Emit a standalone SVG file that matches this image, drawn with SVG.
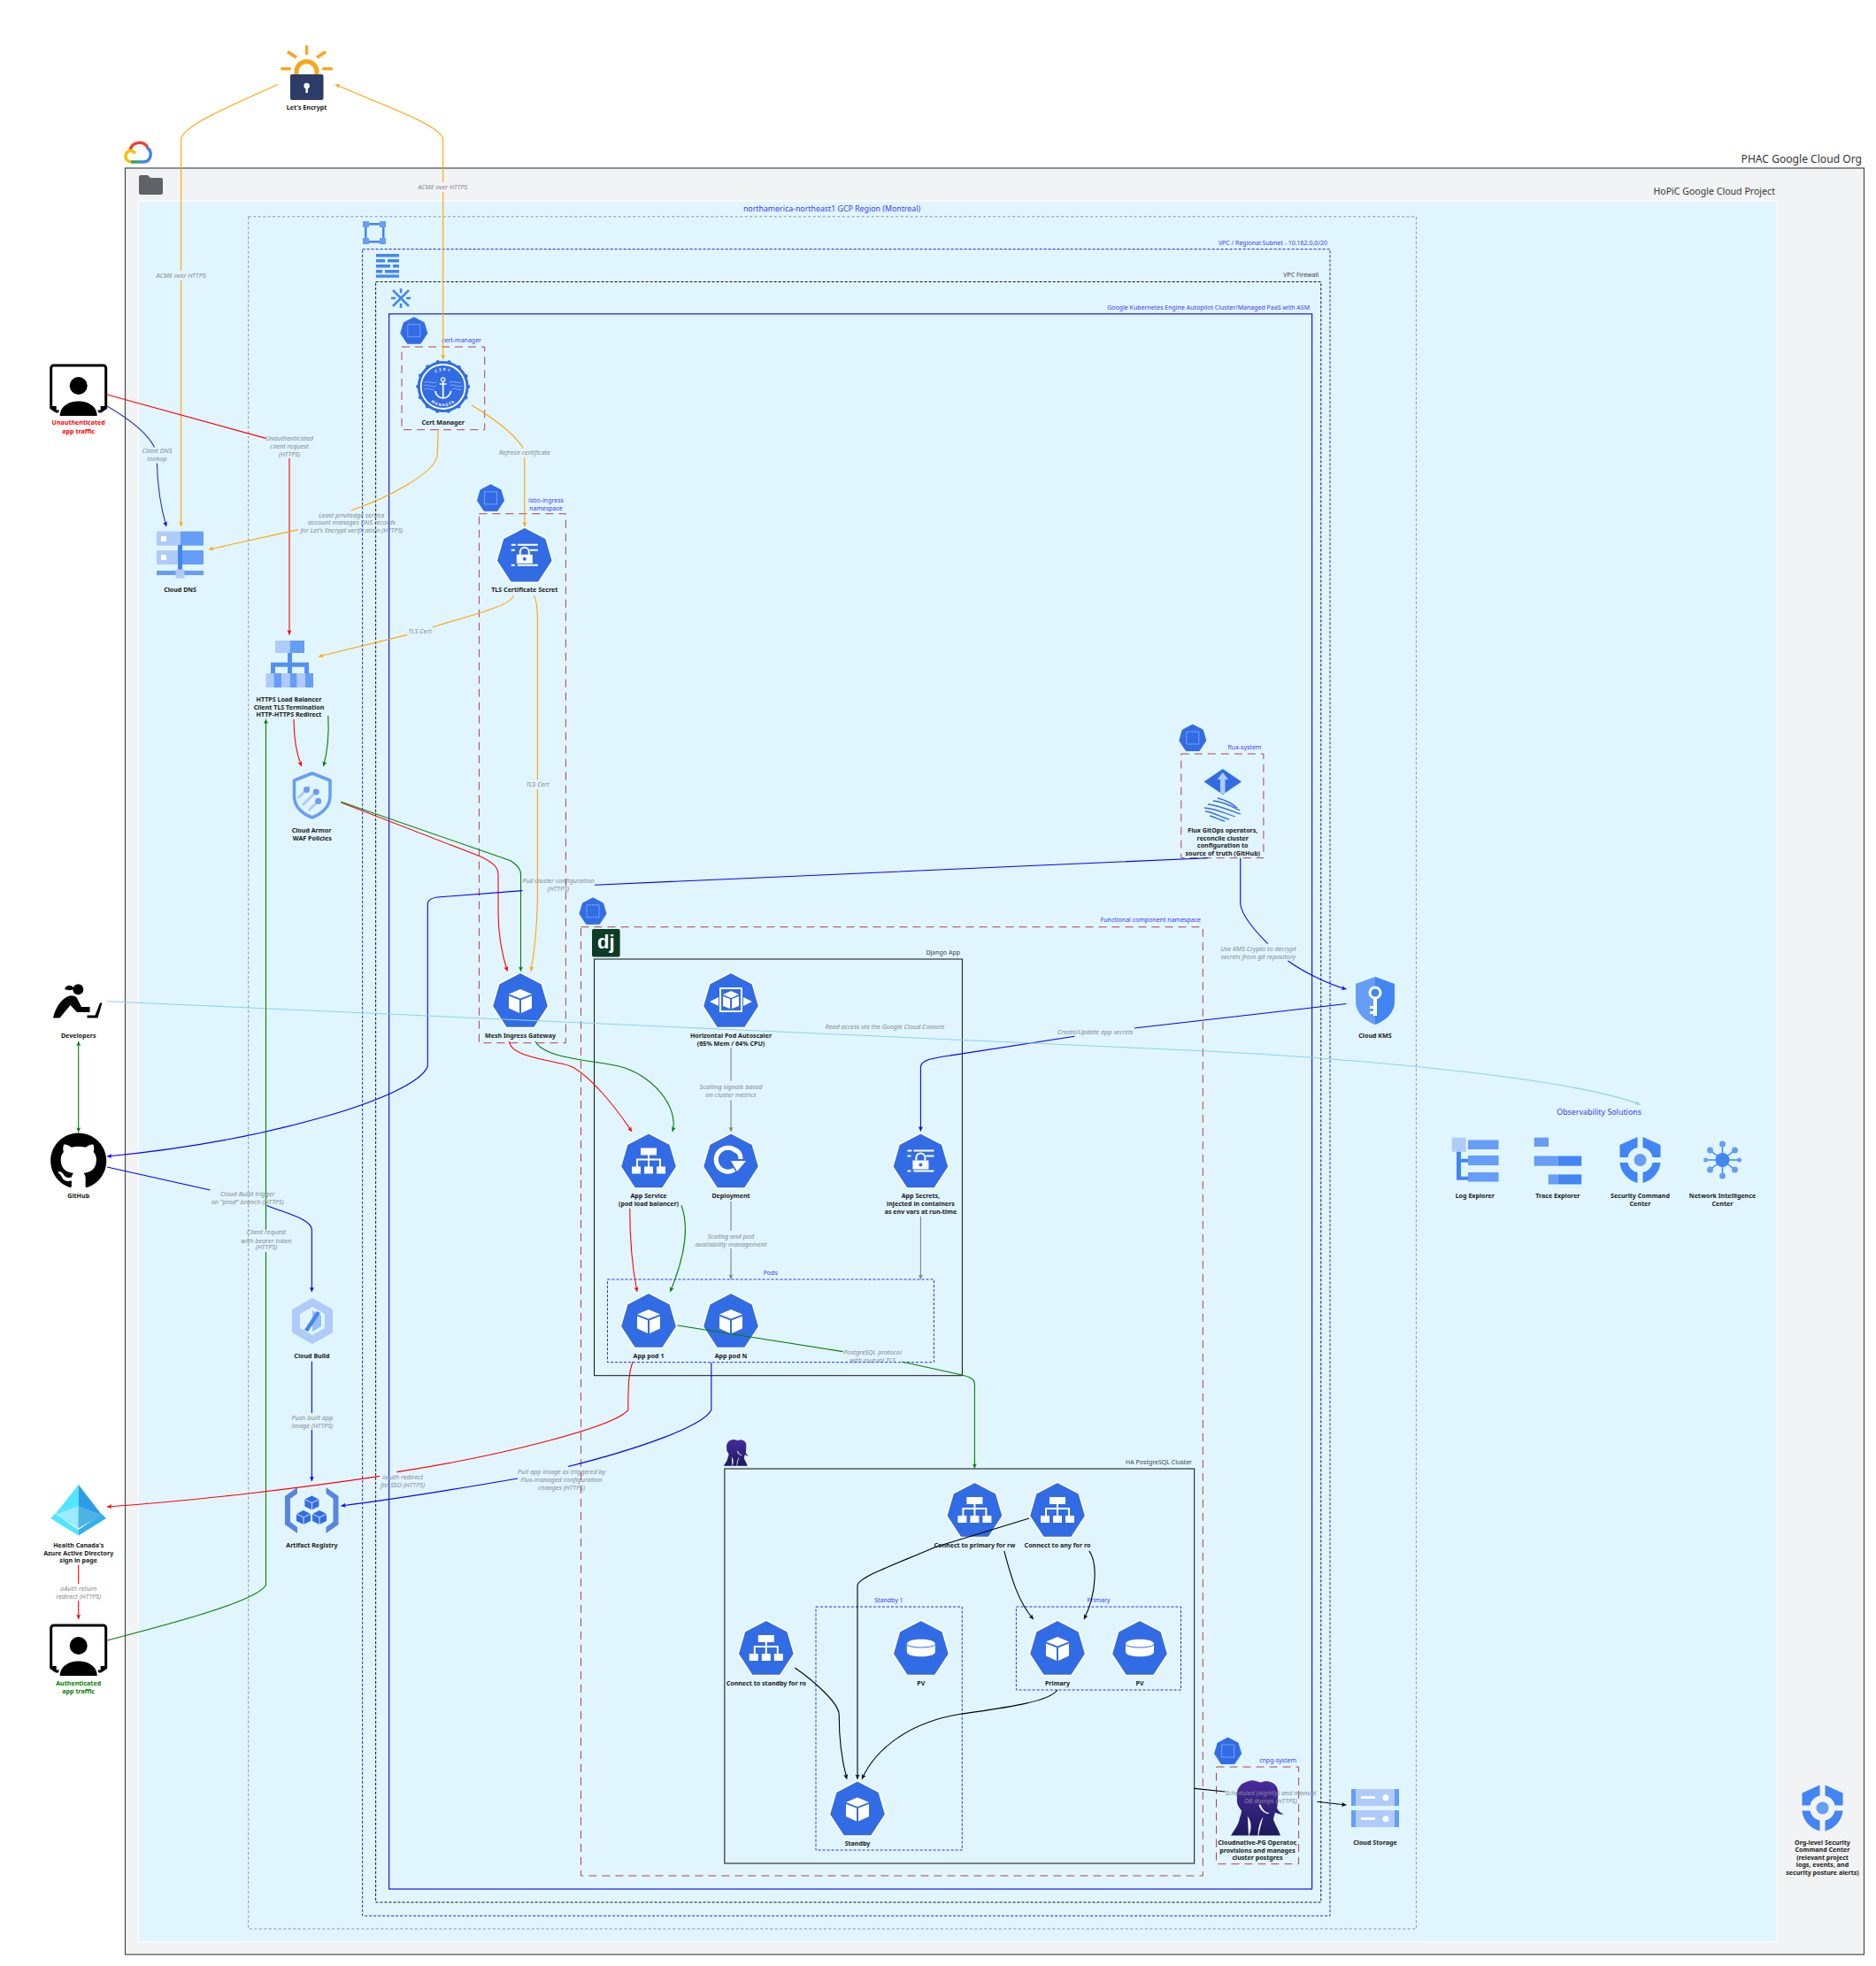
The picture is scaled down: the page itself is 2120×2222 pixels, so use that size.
<svg xmlns="http://www.w3.org/2000/svg" width="2120" height="2222" viewBox="0 0 2120 2222">
<style>
text{font-family:"Noto Sans","Liberation Sans",sans-serif}
.n{font-size:7.1px;font-weight:700;fill:#1a1a1a;text-anchor:middle}
.e{font-size:7.3px;font-style:italic;fill:#868a92;text-anchor:middle}
.t{font-size:7px;fill:#3a3aff;text-anchor:end}
.k{font-size:7px;fill:#444;text-anchor:end}
.ns{fill:none;stroke:#b5404a;stroke-width:1;stroke-dasharray:9 6}
.c{fill:none;stroke-width:1.1}
.or{stroke:#ffa500;marker-end:url(#a-or)}
.re{stroke:#f00;marker-end:url(#a-re)}
.bl{stroke:#00f;marker-end:url(#a-bl)}
.gr{stroke:#008000;marker-end:url(#a-gr)}
.gy{stroke:#808080;marker-end:url(#a-gy)}
.bk{stroke:#000;marker-end:url(#a-bk)}
.lb{stroke:#87d3ea;marker-end:url(#a-lb)}
</style>
<defs>
<marker id="a-or" viewBox="0 0 8 8" refX="7" refY="4" markerWidth="6" markerHeight="6" markerUnits="userSpaceOnUse" orient="auto-start-reverse"><path d="M0 .6 7 4 0 7.4 1.6 4Z" fill="#ffa500"/></marker>
<marker id="a-re" viewBox="0 0 8 8" refX="7" refY="4" markerWidth="6" markerHeight="6" markerUnits="userSpaceOnUse" orient="auto-start-reverse"><path d="M0 .6 7 4 0 7.4 1.6 4Z" fill="#f00"/></marker>
<marker id="a-bl" viewBox="0 0 8 8" refX="7" refY="4" markerWidth="6" markerHeight="6" markerUnits="userSpaceOnUse" orient="auto-start-reverse"><path d="M0 .6 7 4 0 7.4 1.6 4Z" fill="#00f"/></marker>
<marker id="a-gr" viewBox="0 0 8 8" refX="7" refY="4" markerWidth="6" markerHeight="6" markerUnits="userSpaceOnUse" orient="auto-start-reverse"><path d="M0 .6 7 4 0 7.4 1.6 4Z" fill="#008000"/></marker>
<marker id="a-gy" viewBox="0 0 8 8" refX="7" refY="4" markerWidth="6" markerHeight="6" markerUnits="userSpaceOnUse" orient="auto-start-reverse"><path d="M0 .6 7 4 0 7.4 1.6 4Z" fill="#808080"/></marker>
<marker id="a-bk" viewBox="0 0 8 8" refX="7" refY="4" markerWidth="6" markerHeight="6" markerUnits="userSpaceOnUse" orient="auto-start-reverse"><path d="M0 .6 7 4 0 7.4 1.6 4Z" fill="#000"/></marker>
<marker id="a-lb" viewBox="0 0 8 8" refX="7" refY="4" markerWidth="6" markerHeight="6" markerUnits="userSpaceOnUse" orient="auto-start-reverse"><path d="M0 .6 7 4 0 7.4 1.6 4Z" fill="#87d3ea"/></marker>
<linearGradient id="pg" x1="0" y1="0" x2="0" y2="1"><stop offset="0" stop-color="#4a2a9e"/><stop offset="1" stop-color="#1b1a5c"/></linearGradient>
<g id="hep"><path d="M0-30 23-18 30 6 15 29-15 29-30 6-23-18Z" fill="#fff" stroke="#fff" stroke-width="5" stroke-linejoin="round"/><path d="M0-30 23-18 30 6 15 29-15 29-30 6-23-18Z" fill="#326ce5" stroke="#326ce5" stroke-width="1.5" stroke-linejoin="round"/></g>
<g id="cube"><use href="#hep"/><path d="M0-13 13-7.500 0-2.500-13-7.500Z M-13-5.500-1-.8V14L-13 8.500Z M13-5.500 1-.8V14L13 8.500Z" fill="#fff"/></g>
<g id="tree"><use href="#hep"/><path d="M-9-15H9V-7H-9ZM-1-7H1V-3H14V6H12V-1H1V6H-1V-1H-12V6H-14V-3H-1ZM-19 6H-9V14H-19ZM-5 6H5V14H-5ZM9 6H19V14H9Z" fill="#fff"/></g>
<g id="secret"><use href="#hep"/><path d="M-15-13h5v2h-5zM-8-13H15v2H-8zM6-7h9v2H6zM-15-7h4v2h-4zM-15 10h4v2h-4zM-8 10H15v2H-8zM-9-1H9V9H-9Z" fill="#fff"/><path d="M-5-1V-4a5 5 0 0 1 10 0V-1" fill="none" stroke="#fff" stroke-width="2"/><circle cy="4" r="2" fill="#326ce5"/></g>
<g id="pv"><use href="#hep"/><path d="M-16-5C-16-12 16-12 16-5V4C16 11-16 11-16 4Z" fill="#fff"/><path d="M-16-4C-12 0 12 0 16-4" fill="none" stroke="#326ce5" stroke-width="1"/></g>
<g id="nsi"><path d="M0-15 11.500-9 15 3 7.500 14.500H-7.500L-15 3-11.500-9Z" fill="#326ce5" stroke="#326ce5" stroke-linejoin="round"/><rect x="-7" y="-7" width="14" height="14" fill="none" stroke="#dfe8fb" stroke-width=".8" stroke-dasharray="1 1"/></g>
<g id="user"><path d="M-31-24a3 3 0 0 1 3-3H28a3 3 0 0 1 3 3V21L25 25H-25L-31 21Z" fill="none" stroke="#000" stroke-width="3" stroke-linejoin="round"/><path d="M-21 30C-21 8 21 8 21 30Z" fill="#000" stroke="#fff" stroke-width="4" paint-order="stroke"/><path d="M-31 19H-25V25H-28ZM31 19H25V25H28Z" fill="#000"/><circle cy="-4" r="10" fill="#000"/></g>
<g id="scc" fill="#4285f4"><path d="M-23-17-3-26V-14A13 13 0 0 0-14-3H-23ZM23-17 3-26V-14A13 13 0 0 1 14-3H23ZM-23 3H-14A13 13 0 0 0-3 14V26C-14 23-22 14-23 3ZM23 3H14A13 13 0 0 1 3 14V26C14 23 22 14 23 3Z"/><circle r="7" fill="#669df6"/></g>
<g id="eleph"><path d="M22 0C27-1 30 2 34 2 38 0 42 0 46 2 51 4 54 9 53 16 53 22 53 27 52 31 54 35 57 37 60 38 56 38.500 52 37 50 36 49 40 48 42 48 44 50 50 54 56 56 62H0C4 56 8 50 9 46 10 41 12 37 12 34 9 30 6 26 7 20 6 14 7 9 12 4 15 2 18 1 22 0Z" fill="url(#pg)"/><path d="M33 27C35 32 38 36 43 37 39 37 34 34 32 28ZM19 41C23 47 23 55 20 62M36 42C33 47 31 54 31 62" fill="#fff" stroke="#fff" stroke-width=".8" fill-opacity="1"/></g>
<g id="mc"><path d="M0-8 8-4V4L0 8-8 4V-4Z" fill="#326ce5"/><path d="M-8-4 0 0 8-4M0 0V8" fill="none" stroke="#fff" stroke-width=".8"/></g>
<path id="arcT" d="M-18 0A18 18 0 0 1 18 0"/>
<path id="arcB" d="M-22 0A22 22 0 0 0 22 0"/>
</defs>

<g id="org"><rect x="141.500" y="190" width="1965" height="2019" fill="#f1f3f4" stroke="#4a4a4a" stroke-width="1.200"/><text x="2104" y="184" font-size="12.100" fill="#333" text-anchor="end">PHAC Google Cloud Org</text>
<path d="M147 170C149 160 163 158 167 167" fill="none" stroke="#ea4335" stroke-width="3.500"/><path d="M166 167C173 171 171 183 162 183H157" fill="none" stroke="#4285f4" stroke-width="3.500"/><path d="M157 183H148" fill="none" stroke="#34a853" stroke-width="3.500"/><path d="M148 183C140 182 140 172 148 170L153 173" fill="none" stroke="#fbbc04" stroke-width="3.500"/></g>
<g id="project"><rect x="156.500" y="227" width="1852" height="1968" fill="#e1f5fe" stroke="#fff" stroke-width="1.200"/><text x="2006" y="220" font-size="10.600" fill="#333" text-anchor="end">HoPiC Google Cloud Project</text>
<path d="M157 200a2 2 0 0 1 2-2h8l3 3h12a2 2 0 0 1 2 2v15a2 2 0 0 1-2 2H159a2 2 0 0 1-2-2Z" fill="#5f6368"/></g>
<g id="region"><rect x="280.700" y="244.800" width="1319.700" height="1935.200" fill="none" stroke="#888" stroke-width=".9" stroke-dasharray="3 2.500"/><text x="940" y="239" font-size="8.800" fill="#3a3aff" text-anchor="middle">northamerica-northeast1 GCP Region (Montreal)</text>
<g fill="#669df6"><rect x="410" y="250" width="7" height="7"/><rect x="429" y="250" width="7" height="7"/><rect x="410" y="269" width="7" height="7"/><rect x="429" y="269" width="7" height="7"/><path d="M417 252h12v2.500H417ZM417 272h12v2.500H417ZM412 257h2.500v12H412ZM432 257h2.500v12H432Z" fill="#4285f4"/></g></g>
<g id="subnet"><rect x="409.600" y="281.600" width="1093.400" height="1883.700" fill="none" stroke="#2020f0" stroke-width="1" stroke-dasharray="3 2"/><text class="t" x="1500" y="277">VPC / Regional Subnet - 10.162.0.0/20</text>
<path d="M425 287h26v3.500H425ZM425 293h10v3.500H425ZM438 293h13v3.500H438ZM425 299h16v3.500H425ZM444 299h7v3.500H444ZM425 305h7v3.500H425ZM435 305h16v3.500H435ZM425 310.500h26v3.200H425Z" fill="#4285f4"/></g>
<g id="firewall"><rect x="424.600" y="318.500" width="1068.200" height="1831.500" fill="none" stroke="#111" stroke-width="1" stroke-dasharray="3 2"/><text class="k" x="1490" y="313">VPC Firewall</text>
<g stroke="#4285f4" stroke-width="2.500" fill="none"><path d="M444 328 462 346M462 328 444 346M453 326V331M453 343V348M442 337H447M459 337H464"/></g></g>
<g id="gke"><rect x="439.600" y="354.800" width="1043" height="1780.200" fill="none" stroke="#1818e8" stroke-width="1.200"/><text class="t" x="1480" y="350">Google Kubernetes Engine Autopilot Cluster/Managed PaaS with ASM</text></g>

<g id="ns-cert"><rect class="ns" x="454" y="392" width="93.700" height="93.700"/><use href="#nsi" x="467.800" y="373.700"/><text class="t" x="544" y="387">cert-manager</text></g>
<g id="ns-istio"><rect class="ns" x="541.400" y="580.700" width="98" height="598"/><use href="#nsi" x="554.500" y="562.800"/><text class="t" x="617" y="568" style="text-anchor:middle">istio-ingress</text><text class="t" x="617" y="577" style="text-anchor:middle">namespace</text></g>
<g id="ns-flux"><rect class="ns" x="1334.800" y="852" width="93.100" height="117.700"/><use href="#nsi" x="1347.800" y="834"/><text class="t" x="1425.400" y="847">flux-system</text></g>
<g id="ns-func"><rect class="ns" x="656.500" y="1047.700" width="702.800" height="1072.300"/><use href="#nsi" x="670" y="1029.800"/><text class="t" x="1357" y="1042">Functional component namespace</text></g>
<g id="ns-cnpg"><rect class="ns" x="1374.500" y="1997" width="93.100" height="109.700"/><use href="#nsi" x="1387.600" y="1979"/><text class="t" x="1465" y="1992">cnpg-system</text></g>

<g id="django"><rect x="671.500" y="1084" width="415.900" height="470.700" fill="none" stroke="#111" stroke-width="1"/><text class="k" x="1085" y="1079">Django App</text><rect x="669" y="1050" width="31.600" height="31.600" rx="2" fill="#0c3c26"/><text x="684.800" y="1072" font-size="22" font-weight="700" fill="#fff" text-anchor="middle" style="font-family:'Liberation Sans',sans-serif">dj</text></g>
<g id="pods"><rect x="686.500" y="1446" width="368.900" height="93.700" fill="none" stroke="#2a2af0" stroke-width="1" stroke-dasharray="3 2"/><text class="t" x="870.700" y="1441" style="text-anchor:middle">Pods</text></g>
<g id="ha"><rect x="818.800" y="1660" width="530.800" height="446" fill="none" stroke="#333" stroke-width="1.200"/><text class="k" x="1347" y="1655">HA PostgreSQL Cluster</text><use href="#eleph" transform="translate(817.800 1627) scale(.48)"/></g>
<g id="standby1"><rect x="922" y="1816" width="165.300" height="275" fill="none" stroke="#2a2af0" stroke-width="1" stroke-dasharray="3 2"/><text class="t" x="1004.400" y="1811" style="text-anchor:middle">Standby 1</text></g>
<g id="primaryset"><rect x="1148.400" y="1816" width="186.100" height="94" fill="none" stroke="#2a2af0" stroke-width="1" stroke-dasharray="3 2"/><text class="t" x="1241.500" y="1811" style="text-anchor:middle">Primary</text></g>

<g id="letsencrypt"><g fill="#faa61a"><rect x="345" y="51" width="3.200" height="11" rx="1.500"/><rect x="317" y="76" width="12" height="3.500" rx="1.500"/><rect x="364" y="76" width="12" height="3.500" rx="1.500"/><path d="M324 60l2-3 10 6.500-2 3ZM369 60l-2-3-10 6.500 2 3Z"/></g><path d="M335 84V81a11.500 11.500 0 0 1 23 0V84" fill="none" stroke="#faa61a" stroke-width="5"/><rect x="328" y="84" width="37.500" height="29" rx="2" fill="#2c3c69"/><circle cx="346.600" cy="97" r="3.200" fill="#fff"/><rect x="345.400" y="98" width="2.500" height="7" fill="#fff"/><text class="n" x="346.600" y="124">Let's Encrypt</text></g>
<g id="unauth"><use href="#user" x="88.700" y="440"/><text class="n" x="88.700" y="480" style="fill:#f00">Unauthenticated</text><text class="n" x="88.700" y="490" style="fill:#f00">app traffic</text></g>
<g id="clouddns"><rect x="177" y="600.600" width="27" height="16" fill="#aecbfa"/><rect x="204" y="600.600" width="26" height="16" fill="#669df6"/><rect x="177" y="622" width="27" height="16" fill="#aecbfa"/><rect x="204" y="622" width="26" height="16" fill="#669df6"/><rect x="182" y="606" width="6" height="6" fill="#fff"/><rect x="182" y="627" width="6" height="6" fill="#fff"/><rect x="201" y="616" width="5" height="30" fill="#4285f4"/><rect x="177" y="645" width="53" height="5" fill="#669df6"/><rect x="198.500" y="643.500" width="10" height="10" fill="#aecbfa"/><text class="n" x="203.600" y="669">Cloud DNS</text></g>
<g id="certmanager"><circle cx="500.700" cy="437" r="29" fill="#326ce5"/><circle cx="500.700" cy="437" r="28.500" fill="none" stroke="#326ce5" stroke-width="4" stroke-dasharray=".1 12.700" stroke-linecap="round"/><circle cx="500.700" cy="437" r="25" fill="none" stroke="#fff" stroke-width="1.800"/><g transform="translate(500.700 437)"><text font-size="4.200" font-weight="700" fill="#fff" letter-spacing="2" text-anchor="middle"><textPath href="#arcT" startOffset="50%">CERT</textPath></text><text font-size="4.200" font-weight="700" fill="#fff" letter-spacing="1.200" text-anchor="middle"><textPath href="#arcB" startOffset="50%">MANAGER</textPath></text><path d="M0-6V13M-4-3H4M-9 5C-8 10-4 13 0 13 4 13 8 10 9 5" fill="none" stroke="#fff" stroke-width="1.700"/><circle cy="-8" r="2.200" fill="none" stroke="#fff" stroke-width="1.200"/><path d="M-22-1C-17-4-13 2-8-1M8-1C13-4 17 2 22-1M-21 3C-17 0-14 5-10 3M10 3C14 0 17 5 21 3M-21-5C-17-7-13-3-7-5M7-5C13-7 17-3 21-5" fill="none" stroke="#c4d5f7" stroke-width=".6"/></g><text class="n" x="500.700" y="480">Cert Manager</text></g>
<g id="tls"><use href="#secret" x="592.800" y="627.700"/><text class="n" x="592.800" y="669">TLS Certificate Secret</text></g>
<g id="lb"><rect x="311" y="724" width="16.500" height="14" fill="#aecbfa"/><rect x="327.500" y="724" width="16.500" height="14" fill="#669df6"/><path d="M325 738h5v10.700h19V761h-5v-7.300H330V761h-5v-7.300H311V761h-5V748.700h19Z" fill="#4285f4" opacity=".9"/><g fill="#aecbfa"><rect x="300.500" y="761" width="9" height="16"/><rect x="318" y="761" width="9.500" height="16"/><rect x="335.500" y="761" width="9.500" height="16"/></g><g fill="#669df6"><rect x="309.500" y="761" width="8.500" height="16"/><rect x="327.500" y="761" width="8" height="16"/><rect x="345" y="761" width="9" height="16"/></g><text class="n" x="326.500" y="793">HTTPS Load Balancer</text><text class="n" x="326.500" y="802">Client TLS Termination</text><text class="n" x="326.500" y="810">HTTP-HTTPS Redirect</text></g>
<g id="armor"><path d="M352.800 874 373 882V900C373 912 363 920 352.800 924 342 920 332.500 912 332.500 900V882Z" fill="none" stroke="#669df6" stroke-width="3.500" stroke-linejoin="round"/><path d="M337 902 350 889M342 910 357 895M349 916 362 903" stroke="#aecbfa" stroke-width="3"/><circle cx="346.500" cy="892.500" r="3.500" fill="#669df6"/><circle cx="357.300" cy="895" r="3.500" fill="#669df6"/><circle cx="359.700" cy="905.500" r="3.500" fill="#669df6"/><text class="n" x="352" y="940.700">Cloud Armor</text><text class="n" x="352.800" y="950">WAF Policies</text></g>
<g id="mesh"><use href="#cube" x="588" y="1131"/><text class="n" x="588" y="1173">Mesh Ingress Gateway</text></g>
<g id="developers"><circle cx="88.300" cy="1118.300" r="6" fill="#000"/><path d="M83 1116C79 1112 74 1114 73 1118 76 1119 79 1120 83 1118Z" fill="#000"/><path d="M60 1150.500C62 1141 68 1130 76 1126.500 80 1124.500 85 1125 87 1128L92 1138H101.500V1144H87L79.500 1136 67.500 1150.500Z" fill="#000"/><path d="M98.500 1147.500H107.500L113 1133.500H115.500L110.500 1150.500H98.500Z" fill="#000"/><text class="n" x="88.700" y="1173">Developers</text></g>
<g id="github"><path transform="translate(57.200 1280.500) scale(3.940)" fill="#000" d="M8 0C3.580 0 0 3.580 0 8c0 3.540 2.290 6.530 5.470 7.590.4.070.55-.17.55-.38 0-.19-.01-.82-.01-1.490-2.010.37-2.530-.49-2.690-.94-.09-.23-.48-.94-.82-1.130-.28-.15-.68-.52-.01-.53.63-.01 1.080.58 1.230.82.72 1.210 1.870.87 2.330.66.07-.52.28-.87.51-1.070-1.780-.2-3.640-.89-3.640-3.950 0-.87.31-1.590.82-2.150-.08-.2-.36-1.020.08-2.120 0 0 .67-.21 2.200.82.64-.18 1.320-.27 2-.27.68 0 1.360.09 2 .27 1.530-1.040 2.200-.82 2.200-.82.44 1.100.16 1.920.08 2.120.51.56.82 1.270.82 2.150 0 3.070-1.870 3.750-3.650 3.950.29.25.54.73.54 1.480 0 1.070-.01 1.930-.01 2.200 0 .21.15.46.55.38A8.013 8.013 0 0016 8c0-4.420-3.580-8-8-8z"/><text class="n" x="88.700" y="1354">GitHub</text></g>
<g id="cloudbuild"><path d="M353 1467 376 1480V1506L353 1519 330 1506V1480Z" fill="#aecbfa"/><path d="M353 1477 367 1485V1501L353 1509 339 1501V1485Z" fill="#e1f5fe"/><path d="M353 1481 363 1487V1499L353 1505Z" fill="#669df6" opacity=".6"/><path d="M358 1482 362 1484 348 1505 344 1503Z" fill="#4285f4"/><text class="n" x="352.400" y="1535">Cloud Build</text></g>
<g id="artifact"><path d="M336 1681 322 1691V1723L336 1733V1726L328 1720V1694L336 1688ZM368.500 1681 382.500 1691V1723L368.500 1733V1726L376.500 1720V1694L368.500 1688Z" fill="#5a85de"/><use href="#mc" x="352.400" y="1698.600"/><use href="#mc" x="343" y="1715"/><use href="#mc" x="361" y="1715"/><text class="n" x="352.400" y="1749">Artifact Registry</text></g>
<g id="azure"><path d="M88.700 1678 62 1712 88.700 1727Z" fill="#50e6ff"/><path d="M88.700 1678 115 1712 88.700 1727Z" fill="#2e9be6"/><path d="M88.700 1702 62 1712 88.700 1727Z" fill="#9cebff"/><path d="M88.700 1702 115 1712 88.700 1727Z" fill="#4fb4e4"/><path d="M62 1711 57 1716 88.700 1735.600V1729Z" fill="#50e6ff"/><path d="M115 1711 120 1716 88.700 1735.600V1729Z" fill="#32b0e8"/><text class="n" x="88.700" y="1749">Health Canada's</text><text class="n" x="88.700" y="1758">Azure Active Directory</text><text class="n" x="88.700" y="1766">sign in page</text></g>
<g id="auth"><use href="#user" x="88.700" y="1864"/><text class="n" x="88.700" y="1905" style="fill:#008000">Authenticated</text><text class="n" x="88.700" y="1914" style="fill:#008000">app traffic</text></g>
<g id="hpa"><use href="#hep" x="826" y="1131"/><g transform="translate(826 1131)"><rect x="-12" y="-14" width="24" height="26" fill="none" stroke="#fff" stroke-width="2"/><path d="M0-11 9-7 0-3-9-7ZM-9-5-1-2V9L-9 6ZM9-5 1-2V9L9 6ZM-14-4V6L-24 1ZM14-4V6L24 1Z" fill="#fff"/></g><text class="n" x="826" y="1173">Horizontal Pod Autoscaler</text><text class="n" x="826" y="1182">(65% Mem / 64% CPU)</text></g>
<g id="appservice"><use href="#tree" x="733" y="1312.400"/><text class="n" x="733" y="1354">App Service</text><text class="n" x="733" y="1363">(pod load balancer)</text></g>
<g id="deployment"><use href="#hep" x="826" y="1312.400"/><g transform="translate(823 1311)"><path d="M10-9A13.500 13.500 0 1 0 7 11" fill="none" stroke="#fff" stroke-width="5"/><path d="M3 1H20L10 13Z" fill="#fff"/><path d="M6-12 C10-11 14-8 14-1" fill="none" stroke="#fff" stroke-width="5"/></g><text class="n" x="826" y="1354">Deployment</text></g>
<g id="appsecrets"><use href="#secret" x="1040.400" y="1312.400"/><text class="n" x="1040.400" y="1354">App Secrets,</text><text class="n" x="1040.400" y="1363">injected in containers</text><text class="n" x="1040.400" y="1372">as env vars at run-time</text></g>
<g id="pod1"><use href="#cube" x="733" y="1493"/><text class="n" x="733" y="1535">App pod 1</text></g>
<g id="podn"><use href="#cube" x="826" y="1493"/><text class="n" x="826" y="1535">App pod N</text></g>
<g id="kms"><path d="M1554 1104 1532 1112V1132C1532 1145 1543 1154 1554 1158Z" fill="#669df6"/><path d="M1554 1104 1576 1112V1132C1576 1145 1565 1154 1554 1158Z" fill="#4285f4"/><circle cx="1554" cy="1122" r="6" fill="#4285f4" stroke="#fff" stroke-width="3"/><path d="M1552 1129h4v19h-4v-2h-4v-3h4v-3h-4v-3h4Z" fill="#fff"/><text class="n" x="1554" y="1173">Cloud KMS</text></g>
<g id="flux"><path d="M1381.800 869 1403 883.400 1381.800 898 1360.600 883.400Z" fill="#326ce5"/><path d="M1381.800 873 1388 881H1384.500V897H1379V881H1375.500Z" fill="#aecbfa"/><g fill="none" stroke="#326ce5" stroke-width="1.300"><path d="M1376 902C1384 904 1392 908 1398 913"/><path d="M1371 905C1380 906 1392 911 1401 916"/><path d="M1365 909C1376 910 1390 916 1402 920"/><path d="M1361 913C1374 914 1386 920 1396 923"/><path d="M1362 917C1372 918 1380 924 1389 926"/><path d="M1367 922C1372 923 1378 927 1384 928"/></g><text class="n" x="1381.800" y="941">Flux GitOps operators,</text><text class="n" x="1381.800" y="950">reconcile cluster</text><text class="n" x="1381.800" y="958">configuration to</text><text class="n" x="1381.800" y="967">source of truth (GitHub)</text></g>
<g id="obs-title"><text x="1855" y="1259.500" font-size="8.900" fill="#3a3aff" text-anchor="end">Observability Solutions</text></g>
<g id="logexplorer"><rect x="1640.700" y="1285.700" width="16" height="16" fill="#aecbfa"/><path d="M1646 1301.700h5v8h8v4h-8v16h8v4h-13Z" fill="#4285f4"/><g fill="#669df6"><rect x="1659" y="1288.500" width="34.500" height="10.500"/><rect x="1659" y="1306" width="34.500" height="11"/><rect x="1659" y="1325" width="34.500" height="10.600"/></g><text class="n" x="1666.800" y="1354">Log Explorer</text></g>
<g id="traceexplorer"><rect x="1733.700" y="1285.700" width="16.300" height="10.300" fill="#669df6"/><rect x="1733.700" y="1306.500" width="27" height="11.200" fill="#669df6"/><rect x="1760.700" y="1306.500" width="26.500" height="11.200" fill="#4285f4"/><rect x="1749.700" y="1327.400" width="11" height="11.100" fill="#669df6"/><rect x="1760.700" y="1327.400" width="26.500" height="11.100" fill="#4285f4"/><text class="n" x="1760.400" y="1354">Trace Explorer</text></g>
<g id="scc-node"><use href="#scc" x="1853.500" y="1311"/><text class="n" x="1853.500" y="1354">Security Command</text><text class="n" x="1853.500" y="1363">Center</text></g>
<g id="nic"><g transform="translate(1946.500 1311)"><g stroke="#4285f4" stroke-width="1.500"><path d="M0-16V16M-19 0H19M-14-11 14 11M-14 11 14-11"/></g><circle r="8" fill="#4285f4"/><g fill="#669df6"><circle cy="-18" r="3.500"/><circle cy="18" r="3.500"/><circle cx="-14" cy="-11" r="3.500"/><circle cx="14" cy="-11" r="3.500"/><circle cx="-14" cy="11" r="3.500"/><circle cx="14" cy="11" r="3.500"/><circle cx="-19" r="2.500"/><circle cx="19" r="2.500"/></g></g><text class="n" x="1946.500" y="1354">Network Intelligence</text><text class="n" x="1946.500" y="1363">Center</text></g>
<g id="org-scc"><use href="#scc" x="2059.500" y="2043.500"/><text class="n" x="2059.500" y="2085">Org-level Security</text><text class="n" x="2059.500" y="2093">Command Center</text><text class="n" x="2059.500" y="2102">(relevant project</text><text class="n" x="2059.500" y="2110">logs, events, and</text><text class="n" x="2059.500" y="2119">security posture alerts)</text></g>
<g id="storage"><rect x="1527" y="2022" width="54" height="19" fill="#aecbfa"/><rect x="1527" y="2046" width="54" height="19" fill="#aecbfa"/><path d="M1527 2022h5v19h-5ZM1576 2022h5v19h-5ZM1527 2046h5v19h-5ZM1576 2046h5v19h-5Z" fill="#669df6"/><path d="M1538 2030h16v3h-16ZM1538 2054h16v3h-16Z" fill="#fff"/><circle cx="1566" cy="2031.700" r="3.500" fill="#fff"/><circle cx="1566" cy="2055.700" r="3.500" fill="#fff"/><text class="n" x="1554" y="2085">Cloud Storage</text></g>
<g id="cnpg"><use href="#eleph" x="1391" y="2012.500"/><text class="n" x="1421" y="2085">Cloudnative-PG Operator,</text><text class="n" x="1421" y="2094">provisions and manages</text><text class="n" x="1421" y="2102">cluster postgres</text></g>
<g id="conn-primary"><use href="#tree" x="1101.400" y="1707"/><text class="n" x="1101.400" y="1749">Connect to primary for rw</text></g>
<g id="conn-any"><use href="#tree" x="1195" y="1707"/><text class="n" x="1195" y="1749">Connect to any for ro</text></g>
<g id="conn-standby"><use href="#tree" x="865.800" y="1863"/><text class="n" x="865.800" y="1905">Connect to standby for ro</text></g>
<g id="pv-standby"><use href="#pv" x="1040.800" y="1863"/><text class="n" x="1040.800" y="1905">PV</text></g>
<g id="primary"><use href="#cube" x="1195" y="1863"/><text class="n" x="1195" y="1905">Primary</text></g>
<g id="pv-primary"><use href="#pv" x="1288" y="1863"/><text class="n" x="1288" y="1905">PV</text></g>
<g id="standby"><use href="#cube" x="969" y="2044.400"/><text class="n" x="969" y="2085.700">Standby</text></g>

<g id="connectors">
<path class="c or" d="M314 95.500C265 118 204.600 142 204.600 158V306M204.600 317V595"/>
<path class="c or" style="marker-start:url(#a-or)" d="M379 95.500C430 118 500.700 142 500.700 158V206M500.700 217V406"/>
<path class="c re" d="M121 446 300.500 495.400M327 518V717.400"/>
<path class="c" stroke="#1e3aa8" style="marker-end:url(#a-bl)" d="M121 459C145 473 167 490 174.500 505.600M177.400 523.500C178 550 183 578 188 595"/>
<path class="c or" d="M495.400 484.700 494 516C490 535 440 562 396.500 577M337 598.600 236 621"/>
<path class="c or" d="M533 458C560 474 582 492 591.400 506.500M592.800 517V595.300"/>
<path class="c or" d="M580 673C578 685 530 696 488.600 708.700M460.500 717.400 360 742"/>
<path class="c or" d="M603.500 673C607 680 607.400 690 607.400 700V881.500M607.400 891.700V1009C607.400 1040 604 1075 600 1097.700"/>
<path class="c re" d="M332 812.700C332 835 335 852 340.800 866"/>
<path class="c gr" d="M370.800 808.800C372 830 370 850 365.500 866"/>
<path class="c re" d="M385.400 907 543 968C555 974 563 979 563 988V1031C563 1055 567 1078 573.400 1097.700"/>
<path class="c gr" d="M385.400 906.300 577 972.700C583 977 588.500 981 588.500 988V1097.700"/>
<path class="c re" d="M575.400 1177C577 1195 625 1198 644.700 1205 665 1214 695 1250 714 1279"/>
<path class="c gr" d="M605 1177C615 1197 675 1199 698 1204.800 735 1213 768 1250 760 1279"/>
<path class="c re" d="M711.700 1365.700C711.700 1400 714 1430 720 1460"/>
<path class="c gr" d="M770 1362.300C780 1390 772 1425 757.300 1460"/>
<path class="c gy" d="M826 1184.400V1221.700M826 1243.500V1279"/>
<path class="c gy" d="M826 1357.500V1391M826 1411V1445.700"/>
<path class="c gy" d="M1040.400 1375V1445.700"/>
<path class="c bl" d="M1521.400 1134.500 1282 1162M1214.400 1171.300 1076 1192.600C1060 1195 1040.400 1197 1040.400 1206V1278.400"/>
<path class="c bl" d="M1364.700 969.700 672 1000.200M590.400 1006.600 494.400 1014C487 1015 483.300 1017 483.300 1022V1205.300C470 1240 300 1290 121 1307"/>
<path class="c bl" d="M1401.700 969.700V1022C1404 1037 1420 1054 1432.700 1066.600M1455.500 1086C1472 1098 1500 1112 1521.400 1118"/>
<path class="c gr" style="marker-start:url(#a-gr)" d="M88.700 1177V1279.500"/>
<path class="c lb" d="M121 1131.700 1360 1187.800C1560 1198 1780 1220 1853.500 1248.400"/>
<path class="c bl" d="M121 1319 237.500 1345M301.500 1362.400C325 1372 352.400 1378 352.400 1390V1460"/>
<path class="c bl" d="M352.400 1538.700V1597M352.400 1616V1674"/>
<path class="c gr" d="M121 1854C190 1836 290 1810 300.500 1791.400V1415M300.500 1390V812.700"/>
<path class="c re" d="M715 1539C711 1550 709.800 1560 709.800 1593.600 695 1612 570 1645 448.400 1663.600M429 1668.400C340 1682 220 1696 121 1703"/>
<path class="c bl" d="M803.800 1540V1593.500C795 1612 720 1638 642 1657.500M585 1671C510 1684 440 1695 385.400 1702"/>
<path class="c gr" d="M765.500 1498 952.600 1527.600M1019 1539 1086 1553.800C1095 1556 1101.400 1558 1101.400 1564V1659.500"/>
<path class="c bk" d="M1163 1716 1056.300 1748.800C1020 1765 969 1782 969 1792V2010.700"/>
<path class="c bk" d="M1134.800 1752.800C1142 1780 1150 1810 1167.800 1830"/>
<path class="c bk" d="M1230.800 1752.800C1240 1765 1240 1800 1225 1830"/>
<path class="c bk" d="M898.300 1885C920 1900 948.200 1925 948.200 1938 948.200 1960 950 1985 957 2010.700"/>
<path class="c bk" d="M1195 1910C1185 1925 1120 1932 1085.400 1937.300 1030 1946 990 1975 974 2010.700"/>
<path class="c bk" d="M1350 2021.400 1384.500 2025M1488.500 2036.300 1521.400 2040"/>
<path class="c re" d="M88.700 1768.700V1790M88.700 1809V1830"/>
</g>
<g id="edge-labels">
<text class="e" x="204.600" y="314">ACME over HTTPS</text>
<text class="e" x="500.300" y="213.500">ACME over HTTPS</text>
<text class="e" x="327" y="498">Unauthenticated</text><text class="e" x="327" y="507">client request</text><text class="e" x="327" y="516">(HTTPS)</text>
<text class="e" x="177.400" y="512">Client DNS</text><text class="e" x="177.400" y="521">lookup</text>
<text class="e" x="397.500" y="585">Least priviledge service</text><text class="e" x="397.500" y="593">account manages DNS records</text><text class="e" x="397.500" y="602">for Let's Encrypt verification (HTTPS)</text>
<text class="e" x="592.800" y="514">Refresh certificate</text>
<text class="e" x="474.600" y="716">TLS Cert</text>
<text class="e" x="607.400" y="889">TLS Cert</text>
<text class="e" x="631" y="998">Pull cluster configuration</text><text class="e" x="631" y="1006.600">(HTTPS)</text>
<text class="e" x="826" y="1231">Scalling signals based</text><text class="e" x="826" y="1240">on cluster metrics</text>
<text class="e" x="826" y="1400">Scaling and pod</text><text class="e" x="826" y="1409">availability management</text>
<text class="e" x="1237.700" y="1169">Create/Update app secrets</text>
<text class="e" x="1000" y="1163">Read access via the Google Cloud Console</text>
<text class="e" x="1422" y="1075">Use KMS Crypto to decrypt</text><text class="e" x="1422" y="1084">secrets from git repository</text>
<text class="e" x="279.700" y="1352">Cloud Build trigger</text><text class="e" x="279.700" y="1361">on "prod" branch (HTTPS)</text>
<text class="e" x="301" y="1395">Client request</text><text class="e" x="301" y="1404.600">with bearer token</text><text class="e" x="301" y="1412">(HTTPS)</text>
<text class="e" x="352.900" y="1605">Push built app</text><text class="e" x="352.900" y="1614">image (HTTPS)</text>
<text class="e" x="455" y="1672">oAuth redirect</text><text class="e" x="455" y="1680.700">for SSO (HTTPS)</text>
<text class="e" x="634.500" y="1666">Pull app image as triggered by</text><text class="e" x="634.500" y="1675">Flux-managed configuration</text><text class="e" x="634.500" y="1684">changes (HTTPS)</text>
<text class="e" x="986" y="1531">PostgreSQL protocol</text><text class="e" x="986" y="1540">with mutual TLS</text>
<text class="e" x="1436" y="2029.300">Scheduled (nightly) and manual</text><text class="e" x="1436" y="2038.300">DB dumps (HTTPS)</text>
<text class="e" x="88.700" y="1798">oAuth return</text><text class="e" x="88.700" y="1807">redirect (HTTPS)</text>
</g>
</svg>
